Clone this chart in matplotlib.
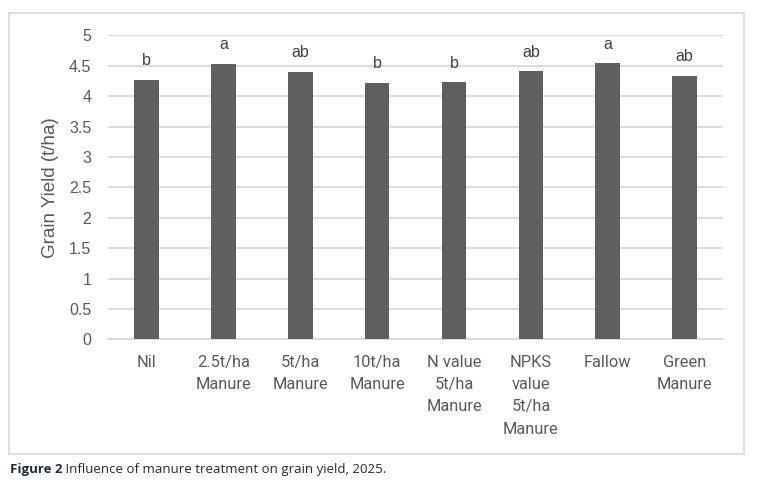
import matplotlib
matplotlib.use("Agg")
import matplotlib.pyplot as plt
from matplotlib.patches import Rectangle
import numpy as np

categories = ["Nil", "2.5t/ha\nManure", "5t/ha\nManure", "10t/ha\nManure",
              "N value\n5t/ha\nManure", "NPKS\nvalue\n5t/ha\nManure", "Fallow", "Green\nManure"]
grain_yield = [4.27, 4.53, 4.40, 4.22, 4.23, 4.41, 4.54, 4.33]
letters = ["b", "a", "ab", "b", "b", "ab", "a", "ab"]
y_ticks = [0, 0.5, 1, 1.5, 2, 2.5, 3, 3.5, 4, 4.5, 5]

plt.rcParams["font.family"] = ["Liberation Sans", "DejaVu Sans"]

fig = plt.figure(figsize=(7.58, 4.82), dpi=100)
ax = fig.add_axes([0.1425, 0.296, 0.8115, 0.6307])

x = np.arange(len(categories))
bars = ax.bar(x, grain_yield, width=0.32, color="#5f5f5f", zorder=3)

for xi, v, lab in zip(x, grain_yield, letters):
    ax.annotate(lab, xy=(xi, v), xytext=(0, 10.5), textcoords="offset points",
                ha="center", va="baseline", fontsize=11.5, color="#404040")

ax.set_xlim(-0.5, len(categories) - 0.5)
ax.set_ylim(0, 5)
ax.set_yticks(y_ticks)
ax.set_yticklabels([f"{t:g}" for t in y_ticks])
ax.grid(axis="y", color="#d9d9d9", linewidth=1.3, zorder=0)
ax.set_xticks(x)
ax.set_xticklabels(categories, fontsize=11.8, color="#595959", linespacing=1.62,
                   family=["Roboto", "DejaVu Sans"])
ax.tick_params(axis="y", length=0, pad=12, labelsize=11.5, labelcolor="#595959")
ax.tick_params(axis="x", length=0, pad=11)
for s in ["top", "right", "left"]:
    ax.spines[s].set_visible(False)
ax.spines["bottom"].set_color("#d9d9d9")
ax.spines["bottom"].set_linewidth(1.3)

ax.set_ylabel("Grain Yield (t/ha)", fontsize=13.5, color="#595959")
ax.yaxis.set_label_coords(-0.08, 0.5)

# chart border
fig.add_artist(Rectangle((0.0125, 0.0587), 0.9694, 0.9143, transform=fig.transFigure,
                         fill=False, edgecolor="#d9d9d9", linewidth=1.2))

# caption
t1 = fig.text(0.013, 0.013, "Figure 2", fontsize=9.5, fontweight="bold",
              color="#1f2b3d", family=["Open Sans", "DejaVu Sans"], va="bottom")
ax.annotate(" Influence of manure treatment on grain yield, 2025.", xy=(1, 0),
            xycoords=t1, va="bottom", ha="left", fontsize=9.5, color="#1f2b3d",
            family=["Open Sans", "DejaVu Sans"], annotation_clip=False)

fig.savefig("out.png", dpi=100)
